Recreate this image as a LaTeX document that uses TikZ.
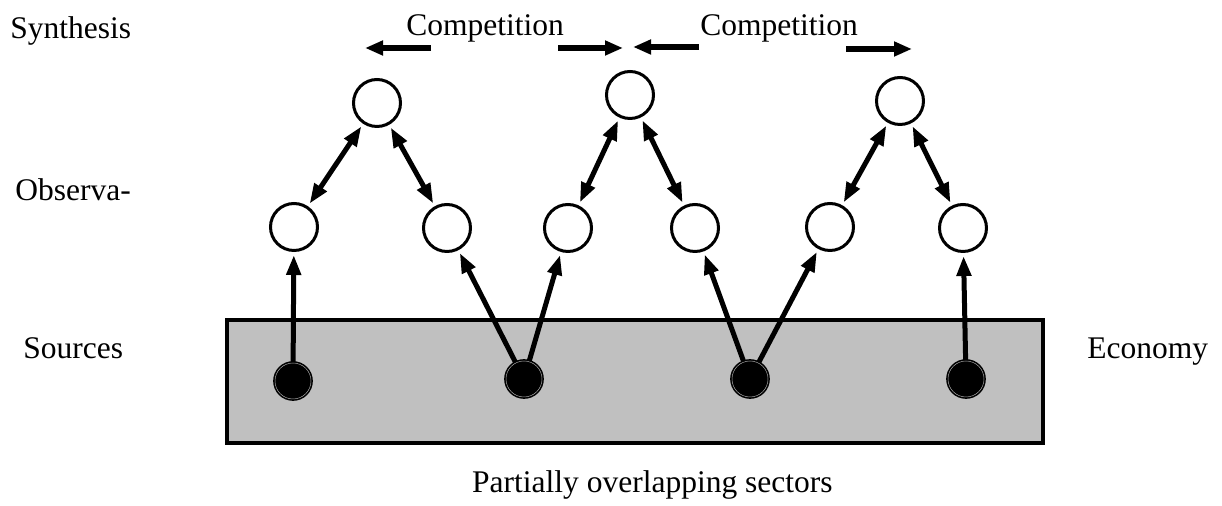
\documentclass[tikz,border=0pt]{standalone}
\usepackage{fontspec}
\setmainfont{Liberation Serif}
\usetikzlibrary{arrows.meta}
\definecolor{boxgray}{RGB}{192,192,192}
\begin{document}
\begin{tikzpicture}[x=0.5pt,y=-0.5pt,
  lbl/.style={font=\fontsize{15.75pt}{18pt}\selectfont, inner sep=0pt, anchor=base west},
  obs/.style={circle, draw, line width=1.5pt, fill=white, minimum size=23.5pt, inner sep=0pt},
  src/.style={circle, draw=black, fill=black, line width=0.8pt, double=gray!70, double distance=0.25pt, minimum size=18pt, inner sep=0pt},
  link/.style={line width=2.5pt, -{Triangle[length=10pt,width=7pt]}, shorten >=1.5pt},
  both/.style={line width=2.5pt, {Triangle[length=10pt,width=7pt]}-{Triangle[length=10pt,width=7pt]}, shorten <=1.5pt, shorten >=1.5pt},
  comp/.style={line width=3pt, -{Triangle[length=9pt,width=7pt]}}
]
\useasboundingbox (0,0) rectangle (1222,506);

% sector box
\node[draw, line width=2pt, fill=boxgray, minimum width=408pt, minimum height=61.5pt, inner sep=0pt] (box) at (635,381.5) {};

% labels
\node[lbl] (synth) at (10,39) {Synthesis};
\node[lbl] (obsl) at (15,201) {Observa-};
\node[lbl] (srcl) at (23,359) {Sources};
\node[lbl] (econ) at (1087,359) {Economy};
\node[lbl] (comp1) at (406,36) {Competition};
\node[lbl] (comp2) at (700,36) {Competition};
\node[lbl, anchor=base east] (part) at (833,493) {Partially overlapping sectors};

% top (synthesis) circles
\node[obs] (t1) at (377,103) {};
\node[obs] (t2) at (630,95) {};
\node[obs] (t3) at (900,101) {};

% observation circles
\node[obs] (o1) at (294,227) {};
\node[obs] (o2) at (447,228) {};
\node[obs] (o3) at (568,228) {};
\node[obs] (o4) at (695,228) {};
\node[obs] (o5) at (830,227) {};
\node[obs] (o6) at (963,228) {};

% sources
\node[src] (s1) at (293,381) {};
\node[src] (s2) at (524,379) {};
\node[src] (s3) at (750,379) {};
\node[src] (s4) at (966,379) {};

% source -> observation
\draw[link] (s1) -- (o1);
\draw[link] (s2) -- (o2);
\draw[link] (s2) -- (o3);
\draw[link] (s3) -- (o4);
\draw[link] (s3) -- (o5);
\draw[link] (s4) -- (o6);

% observation <-> synthesis
\draw[both] (t1) -- (o1);
\draw[both] (t1) -- (o2);
\draw[both] (t2) -- (o3);
\draw[both] (t2) -- (o4);
\draw[both] (t3) -- (o5);
\draw[both] (t3) -- (o6);

% competition arrows
\coordinate (c1s) at (431,48);
\coordinate (c1e) at (365,48);
\coordinate (c2s) at (558,48);
\coordinate (c2e) at (623,48);
\coordinate (c3s) at (699,47);
\coordinate (c3e) at (633,47);
\coordinate (c4s) at (846,49);
\coordinate (c4e) at (912,49);
\draw[comp] (c1s) -- (c1e);
\draw[comp] (c2s) -- (c2e);
\draw[comp] (c3s) -- (c3e);
\draw[comp] (c4s) -- (c4e);
\end{tikzpicture}
\end{document}
